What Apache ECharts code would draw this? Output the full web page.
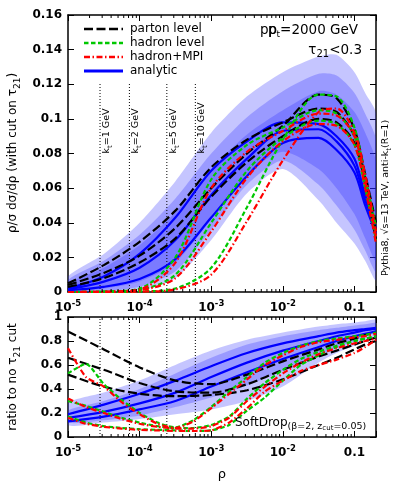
<!DOCTYPE html>
<html>
<head>
<meta charset="utf-8">
<script src="https://cdn.jsdelivr.net/npm/echarts@6/dist/echarts.min.js"></script>
<style>
  html, body { margin: 0; padding: 0; background: #fff; }
  #chart { width: 399px; height: 486px; }
</style>
</head>
<body>
<div id="chart"></div>
<script>
// rho grid (log spaced) shared by the smooth curves
const rho = [1e-5, 3.162e-5, 1e-4, 3.162e-4, 1e-3, 3.162e-3, 1e-2, 3.162e-2, 5.623e-2, 0.1, 0.1413, 0.2];
// finer grid for the noisy MC ratios
const rhoFine = [1e-5, 1.778e-5, 3.162e-5, 5.623e-5, 1e-4, 1.778e-4, 3.162e-4, 5.623e-4, 1e-3, 1.778e-3,
                 3.162e-3, 5.623e-3, 1e-2, 1.778e-2, 3.162e-2, 5.623e-2, 0.1, 0.1413, 0.2];

// top panel: rho/sigma dsigma/drho
const partonA = [0.005, 0.0155, 0.029, 0.047, 0.072, 0.088, 0.098, 0.106, 0.104, 0.090, 0.066, 0.035];
const partonB = [0.004, 0.011, 0.021, 0.037, 0.060, 0.080, 0.096, 0.114, 0.112, 0.094, 0.068, 0.040];
const partonC = [0.003, 0.008, 0.017, 0.031, 0.055, 0.075, 0.090, 0.100, 0.098, 0.086, 0.062, 0.030];
const hadronA = [0, 0.0003, 0.002, 0.020, 0.065, 0.085, 0.095, 0.105, 0.103, 0.090, 0.064, 0.034];
const hadronB = [0, 0.0002, 0.0012, 0.010, 0.040, 0.070, 0.089, 0.099, 0.097, 0.085, 0.060, 0.030];
const hadronC = [0, 0, 0.0003, 0.002, 0.014, 0.049, 0.088, 0.114, 0.113, 0.095, 0.066, 0.038];
const mpiA = [0, 0.0002, 0.0015, 0.017, 0.060, 0.081, 0.093, 0.103, 0.102, 0.090, 0.064, 0.032];
const mpiB = [0, 0.0001, 0.001, 0.008, 0.035, 0.066, 0.087, 0.097, 0.096, 0.085, 0.060, 0.028];
const mpiC = [0, 0, 0.0002, 0.0015, 0.010, 0.041, 0.076, 0.104, 0.106, 0.092, 0.068, 0.035];
const analyticA = [0.002, 0.009, 0.022, 0.043, 0.070, 0.087, 0.098, 0.097, 0.090, 0.077, 0.056, 0.040];
const analyticB = [0.0015, 0.006, 0.014, 0.030, 0.056, 0.077, 0.093, 0.094, 0.087, 0.073, 0.053, 0.037];
const analyticC = [0.001, 0.003, 0.0075, 0.019, 0.043, 0.067, 0.086, 0.089, 0.082, 0.069, 0.050, 0.034];
// uncertainty bands of the analytic curves
const bandOuterHi = [0.009, 0.022, 0.040, 0.064, 0.092, 0.113, 0.127, 0.136, 0.137, 0.127, 0.115, 0.103];
const bandOuterLo = [0, 0, 0.001, 0.008, 0.030, 0.057, 0.071, 0.053, 0.040, 0.028, 0.018, 0.007];
const bandMidHi = [0.007, 0.018, 0.033, 0.054, 0.080, 0.101, 0.116, 0.126, 0.125, 0.115, 0.103, 0.088];
const bandMidLo = [0, 0.0005, 0.003, 0.012, 0.036, 0.062, 0.076, 0.062, 0.050, 0.036, 0.024, 0.012];
const bandInHi = [0.005, 0.014, 0.027, 0.046, 0.071, 0.091, 0.105, 0.116, 0.114, 0.104, 0.092, 0.075];
const bandInLo = [0.0005, 0.002, 0.006, 0.017, 0.042, 0.068, 0.081, 0.071, 0.060, 0.045, 0.031, 0.018];

// bottom panel: ratio to no tau21 cut
const ratioPartonA = [0.88, 0.73, 0.58, 0.47, 0.44, 0.52, 0.63, 0.73, 0.78, 0.82, 0.85, 0.87];
const ratioPartonB = [0.66, 0.56, 0.45, 0.38, 0.37, 0.44, 0.56, 0.67, 0.72, 0.77, 0.80, 0.83];
const ratioPartonC = [0.52, 0.42, 0.36, 0.34, 0.35, 0.39, 0.48, 0.60, 0.66, 0.73, 0.77, 0.80];
const ratioAnalyticA = [0.19, 0.27, 0.36, 0.47, 0.59, 0.70, 0.78, 0.84, 0.87, 0.89, 0.90, 0.91];
const ratioAnalyticB = [0.16, 0.21, 0.28, 0.37, 0.50, 0.62, 0.72, 0.80, 0.84, 0.87, 0.89, 0.90];
const ratioAnalyticC = [0.13, 0.17, 0.23, 0.30, 0.42, 0.54, 0.65, 0.75, 0.80, 0.84, 0.86, 0.88];
const ratioBandOuterHi = [0.28, 0.37, 0.47, 0.60, 0.72, 0.81, 0.87, 0.92, 0.94, 0.955, 0.965, 0.975];
const ratioBandOuterLo = [0.10, 0.12, 0.15, 0.19, 0.23, 0.30, 0.42, 0.62, 0.70, 0.76, 0.80, 0.85];
const ratioBandInHi = [0.22, 0.30, 0.40, 0.53, 0.66, 0.77, 0.84, 0.89, 0.91, 0.93, 0.94, 0.95];
const ratioBandInLo = [0.12, 0.14, 0.18, 0.25, 0.33, 0.43, 0.55, 0.68, 0.74, 0.80, 0.84, 0.87];
const ratioHadronA = [0.53, 0.61, 0.44, 0.31, 0.20, 0.12, 0.08, 0.14, 0.25, 0.38, 0.50, 0.62, 0.70, 0.76, 0.80, 0.82, 0.84, 0.85, 0.87];
const ratioMpiA = [0.74, 0.50, 0.42, 0.29, 0.19, 0.11, 0.075, 0.13, 0.24, 0.36, 0.48, 0.60, 0.68, 0.75, 0.79, 0.81, 0.83, 0.84, 0.86];
const ratioHadronB = [0.30, 0.26, 0.21, 0.16, 0.12, 0.09, 0.075, 0.075, 0.10, 0.17, 0.32, 0.45, 0.56, 0.65, 0.71, 0.76, 0.80, 0.82, 0.84];
const ratioMpiB = [0.32, 0.25, 0.20, 0.15, 0.11, 0.085, 0.07, 0.07, 0.09, 0.16, 0.30, 0.42, 0.53, 0.62, 0.69, 0.74, 0.78, 0.80, 0.82];
const ratioHadronC = [0.17, 0.12, 0.09, 0.075, 0.065, 0.06, 0.055, 0.05, 0.055, 0.10, 0.22, 0.33, 0.47, 0.60, 0.68, 0.75, 0.80, 0.82, 0.84];
const ratioMpiC = [0.16, 0.11, 0.085, 0.07, 0.06, 0.055, 0.05, 0.05, 0.055, 0.12, 0.24, 0.38, 0.47, 0.55, 0.60, 0.645, 0.70, 0.75, 0.81];

// kt reference lines
const ktRho = [2.8e-5, 7.2e-5, 2.4e-4, 6.0e-4];
const ktLabels = ['1', '2', '5', '10'];

const FONT = 'DejaVu Sans';
const BLUE = '#0000ff', GREEN = '#00c800', RED = '#ff0000';
const BAND = 'rgba(40,40,255,0.27)';
const dashParton = [9, 3.5];
const dashHadron = [4.5, 2.5];
const dashMpi = [6, 2.5, 1.5, 2.5];

// log minor tick positions (2..9 per decade)
const minorTicks = [];
for (let e = -5; e <= -1; e++) {
    for (let m = 2; m <= 9; m++) {
        const v = m * Math.pow(10, e);
        if (v < 0.2) minorTicks.push(v);
    }
}

const pts = (xs, ys) => xs.map((x, i) => [x, ys[i]]);

function curve(xs, ys, g, color, type, width, smooth) {
    return {
        type: 'line', xAxisIndex: g, yAxisIndex: g, data: pts(xs, ys),
        symbol: 'none', smooth: smooth, silent: true, z: 3,
        lineStyle: { color: color, width: width, type: type }
    };
}

// filled band between lo and hi, one polygon per band
function band(xs, lo, hi, g) {
    return {
        type: 'custom', xAxisIndex: g, yAxisIndex: g, silent: true, clip: true, z: 1,
        data: xs.map((x, i) => [x, lo[i], hi[i]]),
        renderItem: function (params, api) {
            if (params.dataIndex !== 0) return null;
            const upper = xs.map((x, i) => api.coord([x, hi[i]]));
            const lower = xs.map((x, i) => api.coord([x, lo[i]])).reverse();
            return {
                type: 'polygon',
                shape: { points: upper.concat(lower), smooth: 0.25 },
                style: { fill: BAND, stroke: null }
            };
        }
    };
}

function ktLines(g, top) {
    return ktRho.map(r => ({
        type: 'line', xAxisIndex: g, yAxisIndex: g, data: [[r, 0], [r, top]],
        symbol: 'none', silent: true, z: 2,
        lineStyle: { color: '#000', width: 1, type: [1, 2] }
    }));
}

function minorTickSeries(g, yLo, yHi) {
    return {
        type: 'custom', xAxisIndex: g, yAxisIndex: g, silent: true, clip: false, z: 10,
        data: minorTicks.map(v => [v, yLo]),
        renderItem: function (params, api) {
            const v = api.value(0);
            const b = api.coord([v, yLo]);
            const t = api.coord([v, yHi]);
            const st = { stroke: '#000', lineWidth: 1 };
            return {
                type: 'group', children: [
                    { type: 'line', shape: { x1: b[0], y1: b[1], x2: b[0], y2: b[1] - 3 }, style: st },
                    { type: 'line', shape: { x1: t[0], y1: t[1], x2: t[0], y2: t[1] + 3 }, style: st }
                ]
            };
        }
    };
}

const labelRich = {
    n: { fontFamily: FONT, fontSize: 12, fontWeight: 'bold', color: '#000', lineHeight: 18 },
    p: { fontFamily: FONT, fontSize: 8.5, fontWeight: 'bold', color: '#000', lineHeight: 10, verticalAlign: 'top' }
};
function logLabel(v) {
    const e = Math.log10(v);
    const r = Math.round(e);
    if (Math.abs(e - r) > 1e-6) return '';
    if (r === -1) return '{n|0.1}';
    return '{n|10}{p|' + r + '}';
}

const frame = { show: true, onZero: false, lineStyle: { color: '#000', width: 1.5 } };
function xAxisDef(g, pos, labels) {
    return {
        type: 'log', gridIndex: g, position: pos, min: 1e-5, max: 0.2, logBase: 10,
        axisLine: frame,
        axisTick: { show: true, inside: true, length: 6, lineStyle: { color: '#000', width: 1 } },
        axisLabel: { show: labels, margin: 7, formatter: logLabel, rich: labelRich },
        splitLine: { show: false }
    };
}
function yAxisDef(g, pos, max, interval, labels) {
    return {
        type: 'value', gridIndex: g, position: pos, min: 0, max: max, interval: interval,
        axisLine: frame,
        axisTick: { show: true, inside: true, length: 6, lineStyle: { color: '#000', width: 1 } },
        axisLabel: { show: labels, margin: 6, fontFamily: FONT, fontSize: 12, fontWeight: 'bold', color: '#000' },
        splitLine: { show: false }
    };
}

const series = [
    band(rho, bandOuterLo, bandOuterHi, 0),
    band(rho, bandMidLo, bandMidHi, 0),
    band(rho, bandInLo, bandInHi, 0)
].concat(
    ktLines(0, 0.121),
    [
        curve(rho, analyticA, 0, BLUE, 'solid', 2.2, 0.3),
        curve(rho, analyticB, 0, BLUE, 'solid', 2.2, 0.3),
        curve(rho, analyticC, 0, BLUE, 'solid', 2.2, 0.3),
        curve(rho, partonA, 0, '#000', dashParton, 2.2, 0.3),
        curve(rho, partonB, 0, '#000', dashParton, 2.2, 0.3),
        curve(rho, partonC, 0, '#000', dashParton, 2.2, 0.3),
        curve(rho, hadronA, 0, GREEN, dashHadron, 2.2, 0.3),
        curve(rho, hadronB, 0, GREEN, dashHadron, 2.2, 0.3),
        curve(rho, hadronC, 0, GREEN, dashHadron, 2.2, 0.3),
        curve(rho, mpiA, 0, RED, dashMpi, 2.2, 0.3),
        curve(rho, mpiB, 0, RED, dashMpi, 2.2, 0.3),
        curve(rho, mpiC, 0, RED, dashMpi, 2.2, 0.3),
        minorTickSeries(0, 0, 0.16),
        band(rho, ratioBandOuterLo, ratioBandOuterHi, 1),
        band(rho, ratioBandInLo, ratioBandInHi, 1)
    ],
    ktLines(1, 1),
    [
        curve(rho, ratioAnalyticA, 1, BLUE, 'solid', 2.2, 0.3),
        curve(rho, ratioAnalyticB, 1, BLUE, 'solid', 2.2, 0.3),
        curve(rho, ratioAnalyticC, 1, BLUE, 'solid', 2.2, 0.3),
        curve(rho, ratioPartonA, 1, '#000', dashParton, 2.2, 0.3),
        curve(rho, ratioPartonB, 1, '#000', dashParton, 2.2, 0.3),
        curve(rho, ratioPartonC, 1, '#000', dashParton, 2.2, 0.3),
        curve(rhoFine, ratioHadronA, 1, GREEN, dashHadron, 2.2, 0.2),
        curve(rhoFine, ratioHadronB, 1, GREEN, dashHadron, 2.2, 0.2),
        curve(rhoFine, ratioHadronC, 1, GREEN, dashHadron, 2.2, 0.2),
        curve(rhoFine, ratioMpiA, 1, RED, dashMpi, 2.2, 0.2),
        curve(rhoFine, ratioMpiB, 1, RED, dashMpi, 2.2, 0.2),
        curve(rhoFine, ratioMpiC, 1, RED, dashMpi, 2.2, 0.2),
        minorTickSeries(1, 0, 1)
    ]
);

const chart = echarts.init(document.getElementById('chart'));
chart.setOption({
    animation: false,
    backgroundColor: '#fff',
    grid: [
        { left: 68, top: 15, width: 308, height: 277 },
        { left: 68, top: 317, width: 308, height: 120 }
    ],
    xAxis: [
        xAxisDef(0, 'bottom', true), xAxisDef(1, 'bottom', true),
        xAxisDef(0, 'top', false), xAxisDef(1, 'top', false)
    ],
    yAxis: [
        yAxisDef(0, 'left', 0.16, 0.02, true), yAxisDef(1, 'left', 1, 0.2, true),
        yAxisDef(0, 'right', 0.16, 0.02, false), yAxisDef(1, 'right', 1, 0.2, false)
    ],
    series: series
});

const txt = (size, lh) => ({ fontFamily: FONT, fontSize: size, color: '#000', lineHeight: lh || 18 });
const sub = size => ({ fontFamily: FONT, fontSize: size, color: '#000', lineHeight: 11, verticalAlign: 'bottom' });
const small = size => ({ fontFamily: FONT, fontSize: size, color: '#000', lineHeight: 16, verticalAlign: 'bottom' });

function richText(x, y, text, rich, align, rotation) {
    return {
        type: 'text', x: x, y: y, z: 20, rotation: rotation || 0,
        style: { text: text, rich: rich, align: align || 'center', verticalAlign: 'middle', fill: '#000' }
    };
}

// legend drawn by hand so the dash patterns show
const legendItems = [
    { label: 'parton level', color: '#000', dash: dashParton, w: 2.5 },
    { label: 'hadron level', color: GREEN, dash: dashHadron, w: 2.5 },
    { label: 'hadron+MPI', color: RED, dash: dashMpi, w: 2.5 },
    { label: 'analytic', color: BLUE, dash: null, w: 3 }
];
const graphics = [];
legendItems.forEach((it, i) => {
    const y = 29 + i * 14;
    graphics.push({ type: 'line', shape: { x1: 84, y1: y, x2: 123, y2: y },
        style: { stroke: it.color, lineWidth: it.w, lineDash: it.dash } });
    graphics.push(richText(130, y, '{a|' + it.label + '}', { a: txt(12) }, 'left'));
});

// kt labels, anchored on the data scale
ktRho.forEach((r, i) => {
    const p = chart.convertToPixel({ gridIndex: 0 }, [r, 0.08]);
    graphics.push(richText(p[0] + 6.5, p[1], '{a|k}{s|t}{a|=' + ktLabels[i] + ' GeV}',
        { a: txt(9.5, 14), s: sub(7) }, 'left', Math.PI / 2));
});

graphics.push(
    richText(13, 153, '{a|ρ/σ dσ/dρ (with cut on τ}{s|21}{a|)}', { a: txt(12), s: sub(9) }, 'center', Math.PI / 2),
    richText(13, 377, '{a|ratio to no τ}{s|21}{a| cut}', { a: txt(12), s: sub(9) }, 'center', Math.PI / 2),
    richText(222, 475, '{a|ρ}', { a: txt(13) }, 'center'),
    richText(386, 198, '{a|Pythia8, √s=13 TeV, anti-k}{s|t}{a|(R=1)}', { a: txt(9.5, 14), s: sub(7) }, 'center', Math.PI / 2),
    richText(260, 30, '{a|pp}', { a: txt(13.5) }, 'left'),
    richText(268, 30, '{a|p}{s|t}{a|=2000 GeV}', { a: txt(13.5), s: sub(9) }, 'left'),
    richText(362, 50, '{a|τ}{s|21}{a|<0.3}', { a: txt(13.5), s: sub(10) }, 'right'),
    richText(235, 423, '{a|SoftDrop}{b|(β=2, z}{s|cut}{b|=0.05)}',
        { a: txt(12), b: small(9.5), s: { fontFamily: FONT, fontSize: 7, color: '#000', lineHeight: 13, verticalAlign: 'bottom' } }, 'left')
);

chart.setOption({ graphic: graphics });
</script>
</body>
</html>
